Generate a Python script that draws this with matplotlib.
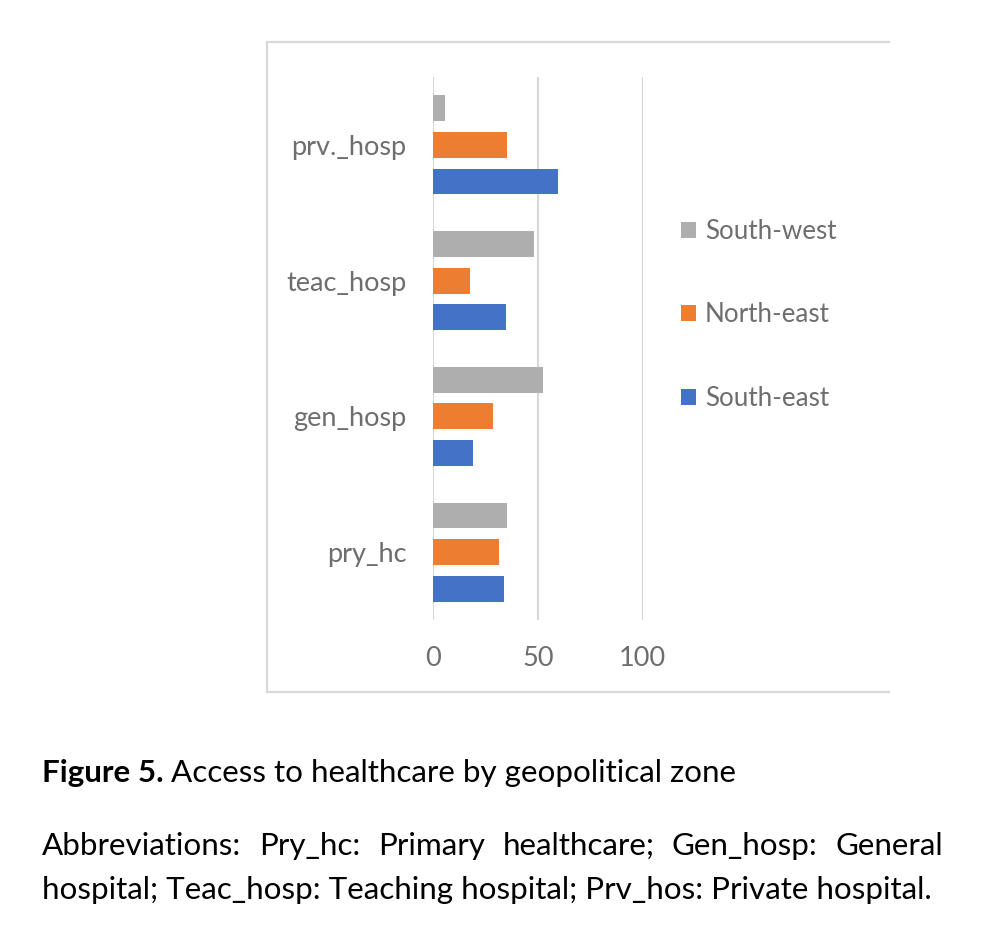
import matplotlib.pyplot as plt
from matplotlib.lines import Line2D
import numpy as np

# Data
categories = ["pry_hc", "gen_hosp", "teac_hosp", "prv._hosp"]
south_east = [33.7, 19.2, 34.6, 59.4]
north_east = [31.6, 28.7, 17.5, 35.4]
south_west = [35.1, 52.6, 48.4, 5.6]
x_ticks = [0, 50, 100]

caption_bold = "Figure 5."
caption_rest = "Access to healthcare by geopolitical zone"
abbrev_line1 = "Abbreviations: Pry_hc: Primary healthcare; Gen_hosp: General"
abbrev_line2 = "hospital; Teac_hosp: Teaching hospital; Prv_hos: Private hospital."

W, H = 983, 932
plt.rcParams['font.family'] = ['Lato', 'DejaVu Sans']
label_color = '#6E6E6E'
grid_color = '#D9D9D9'

fig = plt.figure(figsize=(W / 100, H / 100), dpi=100)

def fx(px):
    return px / W

def fy(py):
    return 1 - py / H

ax = fig.add_axes([fx(433), fy(620), fx(642.7) - fx(433), fy(77) - fy(620)])

y = np.arange(len(categories))
off = 0.27
h = 0.19
b_se = ax.barh(y - off, south_east, height=h, color='#4472C4', label='South-east')
b_ne = ax.barh(y, north_east, height=h, color='#ED7D31', label='North-east')
b_sw = ax.barh(y + off, south_west, height=h, color='#AEAEAE', label='South-west')

ax.set_xlim(0, 100)
ax.set_ylim(-0.5, len(categories) - 0.5)
ax.set_xticks(x_ticks)
ax.set_yticks(y)
ax.set_yticklabels(categories)
ax.tick_params(axis='both', length=0, labelsize=19.5, labelcolor=label_color)
ax.tick_params(axis='x', pad=19)
ax.tick_params(axis='y', pad=19)
ax.grid(axis='x', color=grid_color, linewidth=1.6)
ax.set_axisbelow(True)
for s in ax.spines.values():
    s.set_visible(False)

fig.legend(handles=[b_sw, b_ne, b_se], loc='center left',
           bbox_to_anchor=(fx(658), fy(315)), frameon=False,
           fontsize=18.7, labelcolor=label_color,
           handlelength=0.55, handleheight=0.55, handletextpad=0.35,
           labelspacing=2.25)

# chart frame (left, top, bottom edges)
for xs, ys in [([267, 267], [42, 692]), ([267, 889], [42, 42]), ([267, 889], [692, 692])]:
    fig.add_artist(Line2D([fx(v) for v in xs], [fy(v) for v in ys],
                          color=grid_color, linewidth=1.6))

# caption
cap_size = 22.6
r = fig.canvas.get_renderer()
t = fig.text(fx(42), fy(773), caption_bold, fontsize=cap_size, fontweight='bold',
             va='center', ha='left', color='black')
wb = t.get_window_extent(r).width
fig.text(fx(42 + wb + 7), fy(773), caption_rest, fontsize=cap_size,
         va='center', ha='left', color='black')

# justified first abbreviation line
words = abbrev_line1.split()
texts = [fig.text(0, fy(846), w_, fontsize=cap_size, va='center', ha='left', color='black')
         for w_ in words]
widths = [tx.get_window_extent(r).width for tx in texts]
gap = (943 - 42 - sum(widths)) / (len(words) - 1)
xpos = 42
for tx, wd in zip(texts, widths):
    tx.set_x(fx(xpos))
    xpos += wd + gap
fig.text(fx(42), fy(890), abbrev_line2, fontsize=cap_size, va='center', ha='left', color='black')

fig.savefig('out.png', dpi=100)
